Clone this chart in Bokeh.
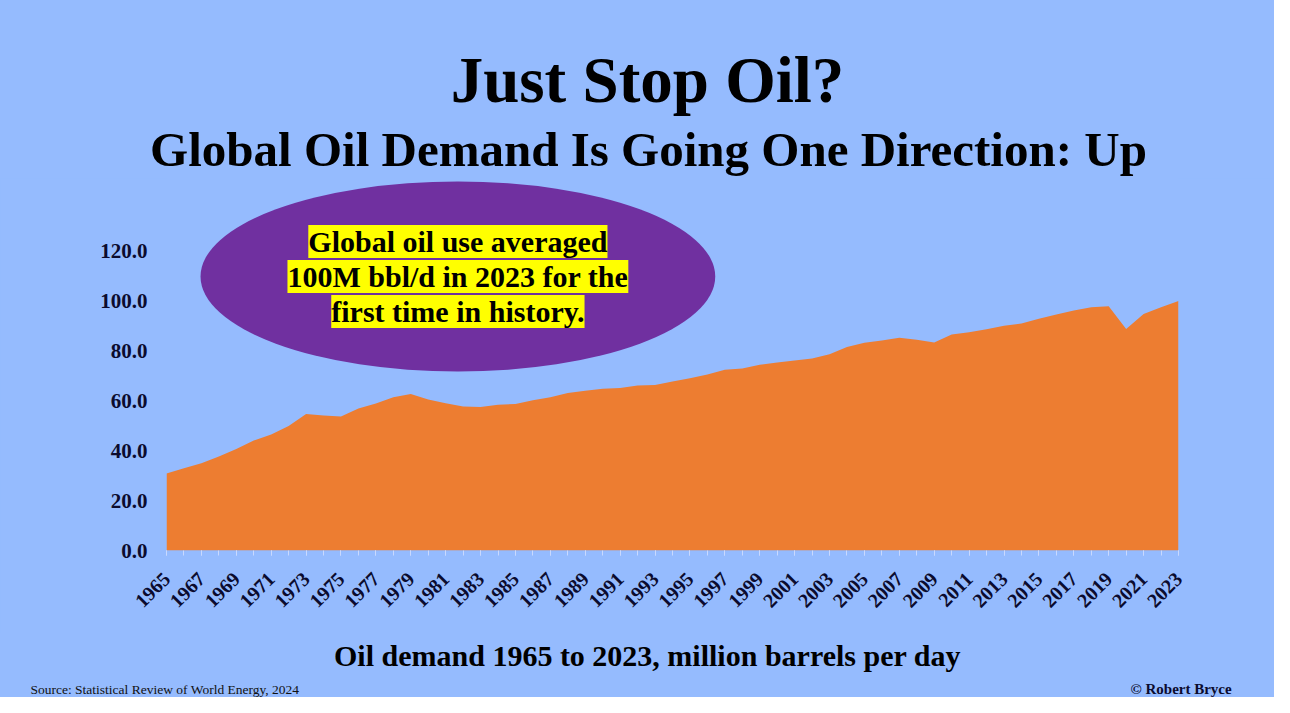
import math
from bokeh.plotting import figure
from bokeh.layouts import column
from bokeh.models import Range1d, FixedTicker, NumeralTickFormatter, BasicTickFormatter
from bokeh.core.properties import value
from bokeh.embed import file_html
from bokeh.resources import INLINE

# ---- data ----
years = list(range(1965, 2024))
demand = [30.8, 32.9, 34.9, 37.6, 40.6, 44.0, 46.4, 49.8, 54.6, 54.0,
          53.6, 56.8, 58.8, 61.3, 62.6, 60.4, 58.9, 57.6, 57.4, 58.3,
          58.6, 60.1, 61.3, 63.0, 63.9, 64.7, 65.0, 66.0, 66.2, 67.6,
          68.9, 70.4, 72.3, 72.8, 74.3, 75.2, 76.0, 76.8, 78.5, 81.4,
          83.1, 84.0, 85.1, 84.3, 83.2, 86.4, 87.3, 88.5, 89.9, 90.8,
          92.7, 94.4, 96.0, 97.3, 97.7, 88.6, 94.6, 97.3, 99.8]
y_ticks = [0, 20, 40, 60, 80, 100, 120]
x_label_years = list(range(1965, 2024, 2))

title_text = "Just Stop Oil?"
subtitle_text = "Global Oil Demand Is Going One Direction: Up"
bubble_lines = ["Global oil use averaged", "100M bbl/d in 2023 for the", "first time in history."]
caption_text = "Oil demand 1965 to 2023, million barrels per day"
source_text = "Source: Statistical Review of World Energy, 2024"
credit_text = "\u00a9 Robert Bryce"

# bubble (ellipse) geometry in data units
bubble_x, bubble_y, bubble_w, bubble_h = 1981.7, 109.6, 29.5, 76.0
bubble_line_y = [123.6, 109.6, 95.6]

BG = "#95BBFE"
ORANGE = "#ED7D31"
PURPLE = "#7030A0"
FONT = "Liberation Serif"
INK = "#0B0B2E"
W = 1274
HEAD_H, FRAME_H, AXIS_H, FOOT_H = 178, 372, 82, 65
Y_TOP = FRAME_H / 2.5


def style(f):
    f.background_fill_color = BG
    f.border_fill_color = BG
    f.outline_line_color = None
    f.xgrid.visible = False
    f.ygrid.visible = False
    f.styles = {"background-color": BG}


def blank(h):
    f = figure(width=W, height=h, output_backend="svg", toolbar_location=None,
               x_range=Range1d(0, W), y_range=Range1d(h, 0),
               x_axis_type=None, y_axis_type=None, min_border=0)
    f.frame_align = False
    style(f)
    return f


def txt(f, t, x, y, size, align="center", style_="bold", color="black"):
    f.text(x=[x], y=[y], text=[t], text_font=value(FONT), text_font_style=style_,
           text_font_size=size, text_align=align, text_baseline="middle", text_color=color)


# ---- header ----
head = blank(HEAD_H)
txt(head, title_text, 647, 79, "65px")
txt(head, subtitle_text, 648, 149, "49px")

# ---- main chart ----
p = figure(width=W, height=FRAME_H + AXIS_H, output_backend="svg", toolbar_location=None,
           x_range=Range1d(1965, 2023), y_range=Range1d(0, Y_TOP),
           min_border_left=166, min_border_right=96, min_border_top=0, min_border_bottom=AXIS_H)
p.frame_align = False
style(p)

p.varea(x=years, y1=0, y2=demand, fill_color=ORANGE)
p.ellipse(x=[bubble_x], y=[bubble_y], width=bubble_w, height=bubble_h,
          fill_color=PURPLE, line_color=None)
for t, yy in zip(bubble_lines, bubble_line_y):
    p.text(x=[bubble_x], y=[yy], text=[t], text_font=value(FONT), text_font_style="bold",
           text_font_size="30px", text_align="center", text_baseline="middle",
           text_color="black", background_fill_color="#FFFF00")

xa = p.xaxis[0]
xa.ticker = FixedTicker(ticks=x_label_years, minor_ticks=years)
xa.formatter = BasicTickFormatter(use_scientific=False)
xa.axis_line_color = None
xa.major_tick_line_color = "#C9D9FF"
xa.minor_tick_line_color = "#C9D9FF"
xa.major_tick_in = 0
xa.major_tick_out = 5
xa.minor_tick_in = 0
xa.minor_tick_out = 5
xa.major_label_orientation = math.pi / 4
xa.major_label_standoff = 20
xa.major_label_text_font = FONT
xa.major_label_text_font_style = "bold"
xa.major_label_text_font_size = "20px"
xa.major_label_text_color = INK

ya = p.yaxis[0]
ya.ticker = FixedTicker(ticks=y_ticks, minor_ticks=[])
ya.formatter = NumeralTickFormatter(format="0.0")
ya.axis_line_color = None
ya.major_tick_line_color = None
ya.major_tick_in = 0
ya.major_tick_out = 0
ya.major_label_standoff = 19
ya.major_label_text_font = FONT
ya.major_label_text_font_style = "bold"
ya.major_label_text_font_size = "21px"
ya.major_label_text_color = INK

# ---- footer ----
foot = blank(FOOT_H)
txt(foot, caption_text, 647, 23, "30px")
txt(foot, source_text, 30, 57, "13.5px", align="left", style_="normal", color="#111111")
txt(foot, credit_text, 1130, 56, "15px", align="left", color=INK)

layout = column(head, p, foot, spacing=0)
layout.styles = {"background-color": BG}
open("out.html", "w").write(file_html(layout, INLINE))
